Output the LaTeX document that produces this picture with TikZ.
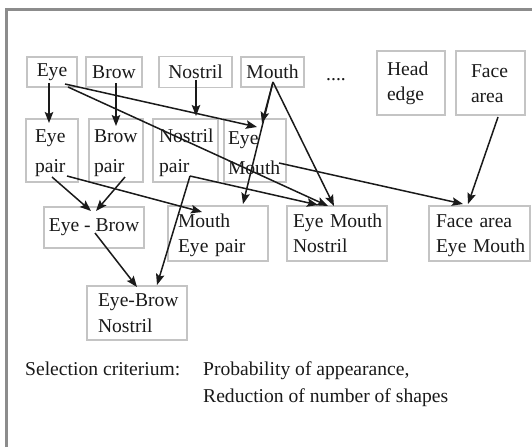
\documentclass[tikz,border=0pt]{standalone}
\usepackage{fontspec}
\setmainfont{Liberation Serif}
\usetikzlibrary{arrows.meta,calc}
\definecolor{framegray}{HTML}{8C8C8C}
\definecolor{boxgray}{HTML}{C4C4C4}
\definecolor{ink}{HTML}{1A1A1A}
\newcommand{\topstrut}[1]{\rule{0pt}{#1pt}}
\begin{document}
\begin{tikzpicture}[x=1pt,y=-1pt,
  box/.style={draw=boxgray, line width=1.1pt, inner ysep=0pt, text=ink,
    font=\fontsize{19.6}{25}\selectfont},
  rowtwo/.style={font=\fontsize{19.6}{30}\selectfont},
  txt/.style={inner sep=0pt, text=ink, font=\fontsize{19.6}{25}\selectfont},
  arr/.style={draw=ink, line width=1.5pt, -{Stealth[length=11pt,width=8.5pt,inset=2pt]}}]
\useasboundingbox (0,0) rectangle (532,447);
\fill[white] (0,0) rectangle (532,447);
% frame (only top and left visible)
\draw[framegray, line width=3pt] (6.5,447) -- (6.5,9.5) -- (532,9.5);

% row 1
\node[box, minimum width=50pt, minimum height=30pt, align=center] (eye) at (52,72) {Eye};
\node[box, minimum width=56pt, minimum height=30pt, align=center] (brow) at (114,72) {Brow};
\node[box, minimum width=73pt, minimum height=31pt, align=center] (nostril) at (195.5,72) {Nostril};
\node[box, minimum width=63pt, minimum height=30pt, align=center] (mouth) at (272.5,72) {Mouth};
\node[txt, anchor=base west] (dots) at (326,80) {....};
\node[box, minimum height=64pt, text width=48pt, inner xsep=10pt, align=left] (head) at (411,83) {Head\\edge};
\node[box, minimum height=64pt, text width=39pt, inner xsep=15pt, align=left] (face) at (490.5,83) {\topstrut{15}Face\\area};

% row 2
\node[box, rowtwo, minimum height=63pt, text width=34pt, inner xsep=9pt, align=left] (eyepair) at (52,150.5) {\topstrut{19}Eye\\pair};
\node[box, rowtwo, minimum height=63pt, text width=44pt, inner xsep=5pt, align=left] (browpair) at (116,150.5) {\topstrut{19}Brow\\pair};
\node[box, rowtwo, minimum height=63pt, text width=53pt, inner xsep=6pt, align=left] (nostrilpair) at (185.5,150.5) {\topstrut{19}Nostril\\pair};
\node[box, rowtwo, minimum height=63pt, text width=54pt, inner xsep=4pt, align=left] (eyemouth) at (255,150.5) {\topstrut{19}Eye\\Mouth};

% row 3
\node[box, minimum width=100pt, minimum height=41pt, align=center] (eyebrow) at (94,227.5) {Eye - Brow};
\node[box, minimum height=55pt, text width=80pt, inner xsep=10pt, align=left] (moutheyepair) at (218,233.5) {\topstrut{17}Mouth\\Eye~pair};
\node[box, minimum height=55pt, text width=88pt, inner xsep=6pt, align=left] (emn) at (337,233.5) {Eye~Mouth\\Nostril};
\node[box, minimum height=55pt, text width=87pt, inner xsep=7pt, align=left] (fem) at (479.5,233.5) {\topstrut{16.5}Face~area\\Eye~Mouth};

% row 4
\node[box, minimum height=54pt, text width=78pt, inner xsep=11pt, align=left] (ebnostril) at (137,313) {\mbox{Eye-Brow}\\[1pt]Nostril};

% texts
\node[txt, anchor=base west] (sel) at (25,375) {Selection criterium:};
\node[txt, anchor=base west] (crit1) at (203,375) {Probability of appearance,};
\node[txt, anchor=base west] (crit2) at (203,402) {Reduction of number of shapes};

% connectors
\draw[arr] ($(eye)+(-3,11)$) -- ($(eyepair)+(-3,-27.5)$);
\draw[arr] ($(brow)+(2,11)$) -- ($(browpair)+(0,-24.5)$);
\draw[arr] ($(nostril)+(0.5,8)$) -- ($(nostrilpair)+(10.5,-34.5)$);
\draw[arr] ($(eye)+(13,12)$) -- ($(eyemouth)+(2,-23.5)$);
\draw[arr] ($(eye)+(16,15)$) -- ($(emn)+(-9,-27.5)$);
\draw[arr] ($(mouth)+(0.5,10)$) -- ($(eyemouth)+(7,-27.5)$);
\draw[arr] ($(mouth)+(0.5,10)$) -- ($(moutheyepair)+(25,-29.5)$);
\draw[arr] ($(mouth)+(0.5,10)$) -- ($(emn)+(-3,-27.5)$);
\draw[arr] ($(eyemouth)+(24,12.5)$) -- ($(fem)+(-16.5,-29.5)$);
\draw[arr] ($(face)+(7.5,34)$) -- ($(fem)+(-11.5,-29.5)$);
\draw[arr] ($(eyepair)+(0,26.5)$) -- ($(eyebrow)+(-3,-16.5)$);
\draw[arr] ($(browpair)+(9,26.5)$) -- ($(eyebrow)+(2,-16.5)$);
\draw[arr] ($(eyepair)+(15,25.5)$) -- ($(moutheyepair)+(-16,-21.5)$);
\draw[arr] ($(nostrilpair)+(4.5,25.5)$) -- ($(emn)+(-19,-28.5)$);
\draw[arr] ($(nostrilpair)+(4.5,25.5)$) -- ($(ebnostril)+(20,-28)$);
\draw[arr] ($(eyebrow)+(1,5.5)$) -- ($(ebnostril)+(0,-26)$);
\end{tikzpicture}
\end{document}
